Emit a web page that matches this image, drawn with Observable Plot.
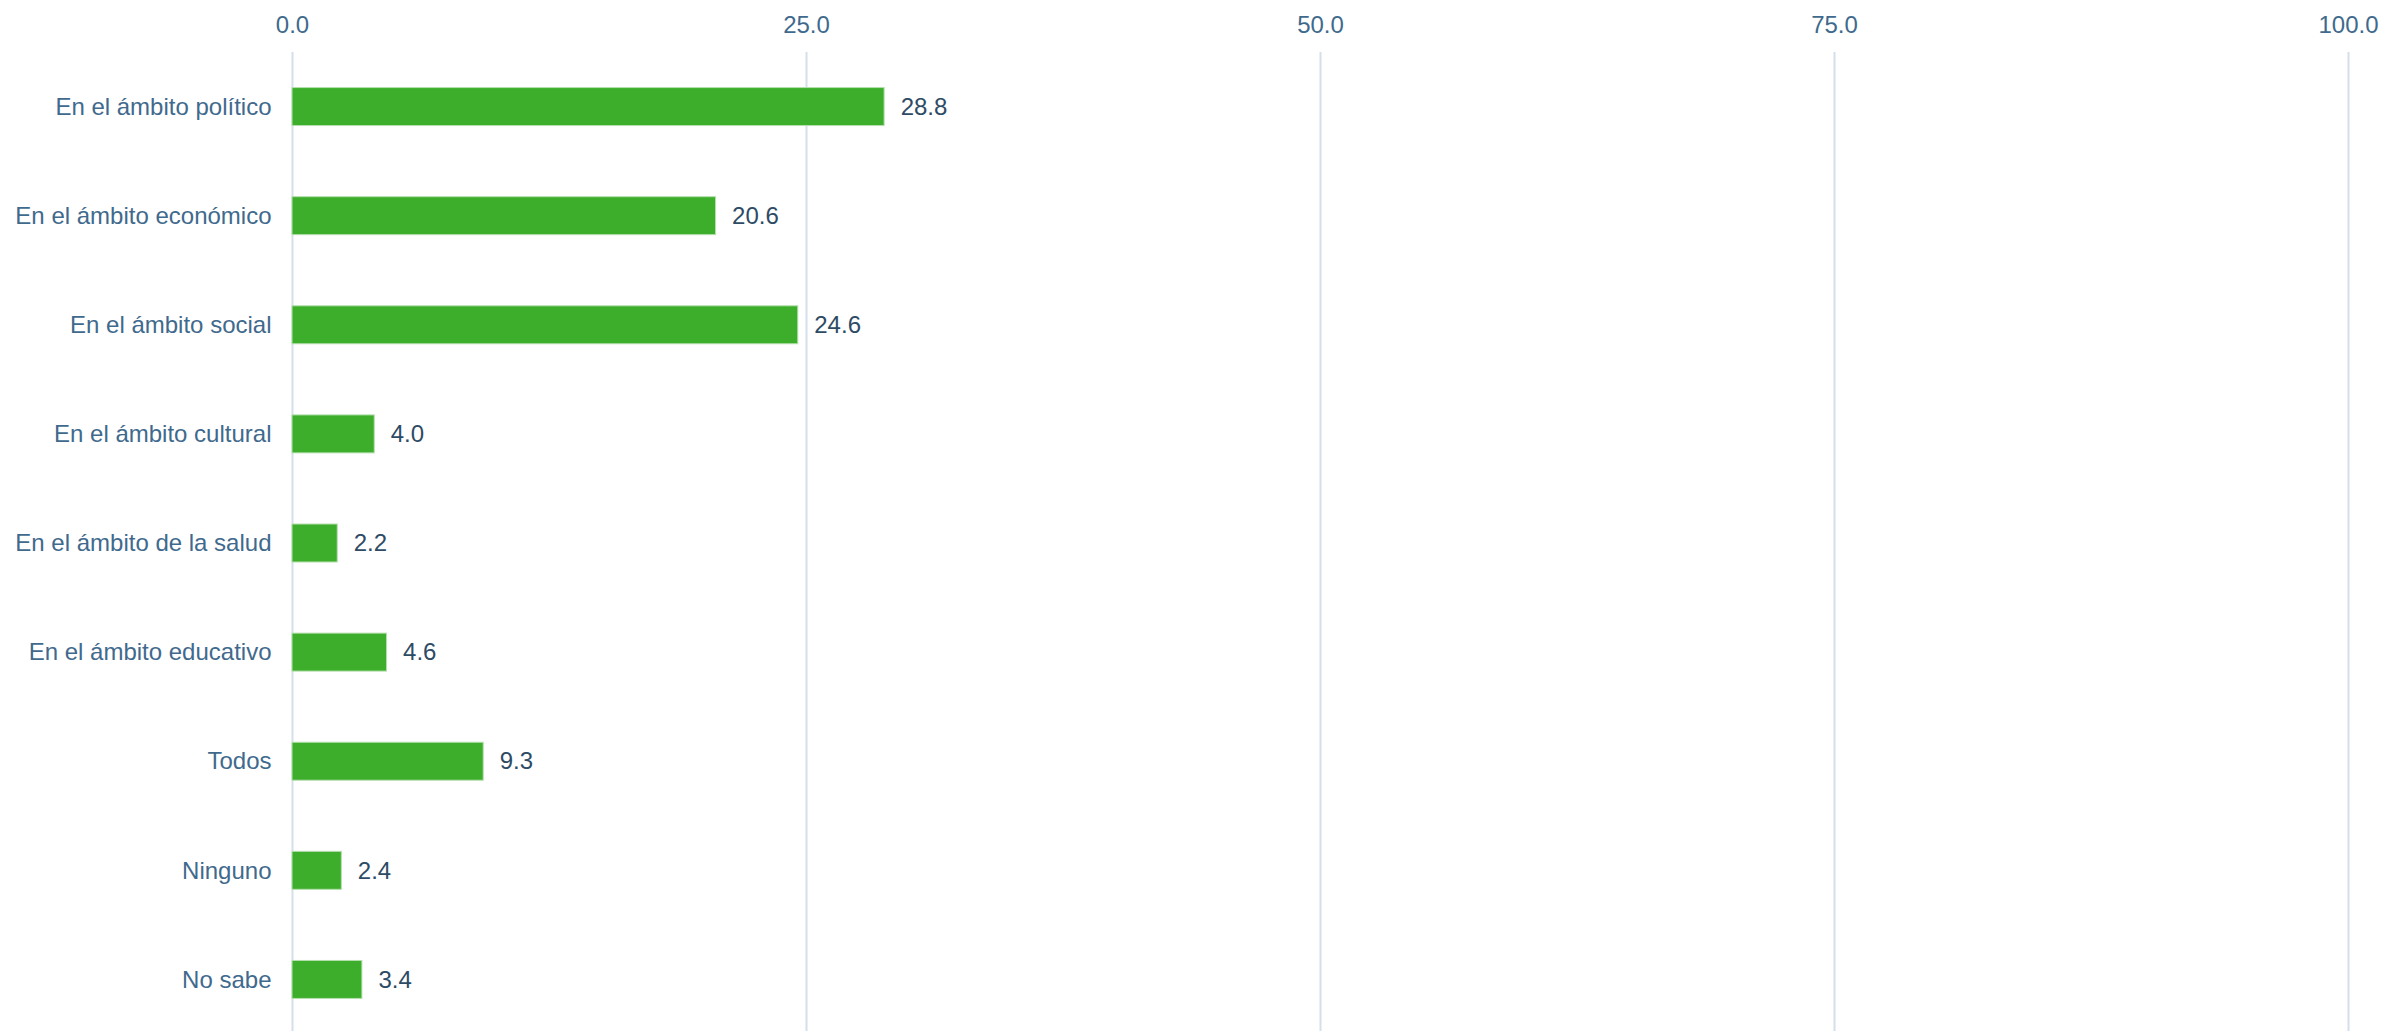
<!DOCTYPE html>
<html>
<head>
<meta charset="utf-8">
<script src="https://cdn.jsdelivr.net/npm/d3@7"></script>
<script src="https://cdn.jsdelivr.net/npm/@observablehq/plot@0.6"></script>
<style>
  html, body { margin: 0; padding: 0; background: #fff; }
  #chart svg { display: block; }
</style>
</head>
<body>
<div id="chart"></div>
<script>
const categories = [
  "En el ámbito político",
  "En el ámbito económico",
  "En el ámbito social",
  "En el ámbito cultural",
  "En el ámbito de la salud",
  "En el ámbito educativo",
  "Todos",
  "Ninguno",
  "No sabe"
];
const values = [28.8, 20.6, 24.6, 4.0, 2.2, 4.6, 9.3, 2.4, 3.4];
const xTicks = [0, 25, 50, 75, 100];

const data = categories.map((c, i) => ({category: c, value: values[i]}));

const chart = Plot.plot({
  width: 2384,
  height: 1031,
  marginLeft: 292,
  marginRight: 36,
  marginTop: 52,
  marginBottom: -3,
  style: {fontFamily: "'Liberation Sans', Arial, sans-serif", fontSize: "24px", background: "#fff", overflow: "hidden"},
  x: {domain: [0, 100]},
  y: {domain: categories, paddingInner: 0.652, paddingOuter: 0.326, round: false},
  marks: [
    Plot.gridX(xTicks, {stroke: "#d3e0eb", strokeOpacity: 1, strokeWidth: 2}),
    Plot.axisX(xTicks, {anchor: "top", tickSize: 0, tickPadding: 20, tickFormat: d => d.toFixed(1), fill: "#3f6a8d", fontSize: 24, label: null}),
    Plot.axisY({tickSize: 0, tickPadding: 21, fill: "#3f6a8d", fontSize: 24, label: null}),
    Plot.barX(data, {x: "value", y: "category", fill: "#3dae2b", stroke: "#b5dfae", strokeWidth: 1}),
    Plot.text(data, {x: "value", y: "category", text: d => d.value.toFixed(1), dx: 16, textAnchor: "start", fill: "#2e4b65", fontSize: 24})
  ]
});
document.getElementById("chart").appendChild(chart);
</script>
</body>
</html>
